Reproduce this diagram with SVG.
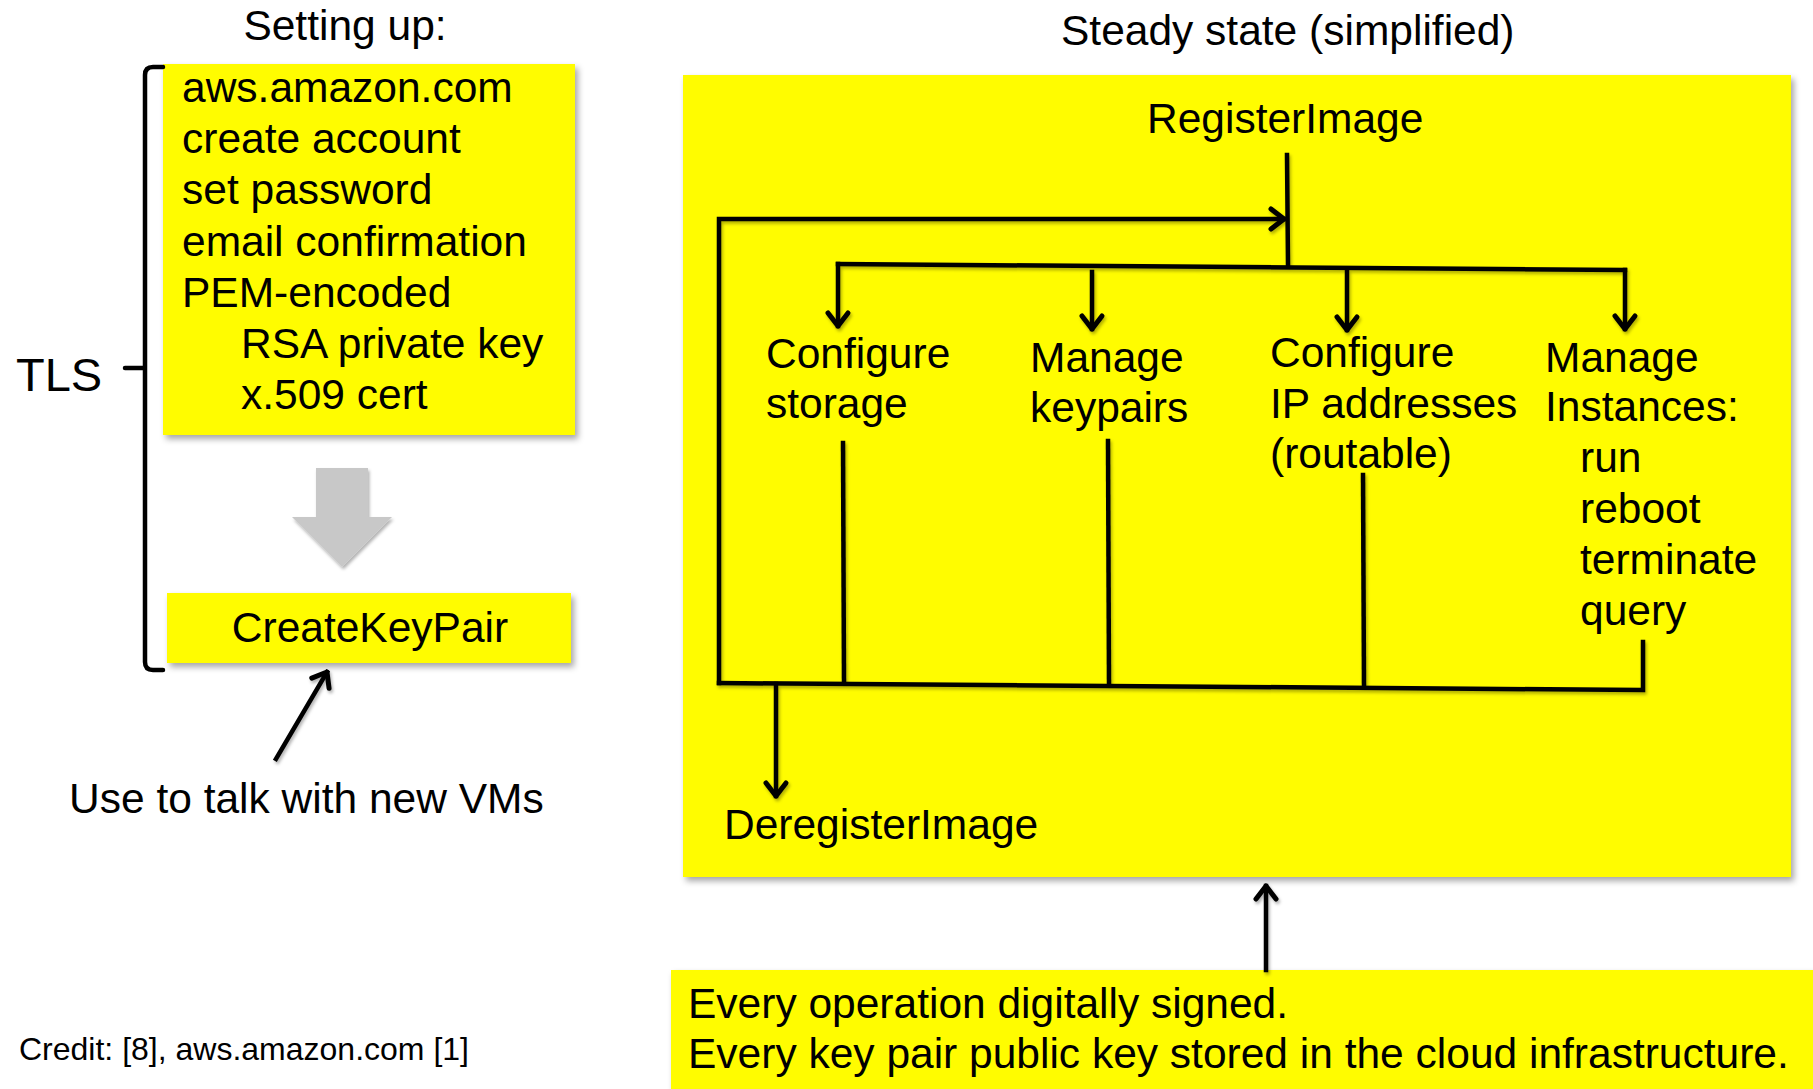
<svg xmlns="http://www.w3.org/2000/svg" width="1813" height="1089" viewBox="0 0 1813 1089">
  <defs>
    <filter id="shadow" x="-5%" y="-5%" width="115%" height="120%">
      <feDropShadow dx="3" dy="4" stdDeviation="3" flood-color="#000" flood-opacity="0.35"/>
    </filter>
    <filter id="lineShadow" x="-5%" y="-5%" width="115%" height="120%">
      <feDropShadow dx="1.5" dy="2.5" stdDeviation="1.5" flood-color="#000" flood-opacity="0.3"/>
    </filter>
    <marker id="arrow" markerUnits="userSpaceOnUse" markerWidth="30" markerHeight="30" viewBox="-20 -15 30 30" refX="0" refY="0" orient="auto" overflow="visible">
      <path d="M -13 -10 L 0 0 L -13 10" fill="none" stroke="#000" stroke-width="5" stroke-linecap="round" stroke-linejoin="round"/>
    </marker>
  </defs>
  <style>
    text { font-family: "Liberation Sans", Arial, sans-serif; font-size: 42.5px; fill: #000; }
    .small { font-size: 32px; }
    .big { font-size: 47px; }
    .box { fill: #FFFC00; filter: url(#shadow); }
    .wire { fill: none; stroke: #000; stroke-width: 4.5; stroke-linecap: square; stroke-linejoin: miter; }
    .arr { marker-end: url(#arrow); }
  </style>

  <rect width="1813" height="1089" fill="#fff"/>

  <!-- section titles -->
  <text x="345" y="40" text-anchor="middle">Setting up:</text>
  <text x="1061" y="45">Steady state (simplified)</text>

  <!-- set-up steps -->
  <g id="setup-steps">
    <rect class="box" x="163" y="64" width="412" height="371"/>
    <text x="182" y="102">aws.amazon.com</text>
    <text x="182" y="153">create account</text>
    <text x="182" y="204">set password</text>
    <text x="182" y="256">email confirmation</text>
    <text x="182" y="307">PEM-encoded</text>
    <text x="241" y="358">RSA private key</text>
    <text x="241" y="409">x.509 cert</text>
  </g>

  <!-- TLS brace -->
  <g id="tls-brace">
    <path d="M 163 67 L 153 67 Q 145 67 145 75 L 145 662 Q 145 670 153 670 L 163 670 M 145 368 L 125 368" fill="none" stroke="#000" stroke-width="4.5" stroke-linecap="round" stroke-linejoin="round"/>
    <text class="big" x="16" y="391">TLS</text>
  </g>

  <!-- block arrow between set-up and key pair -->
  <g id="setup-flow">
    <polygon points="316,468 368,468 368,517 392,517 342,567 292,517 316,517" fill="#c8c8c8" filter="url(#lineShadow)"/>
  </g>

  <g id="create-key-pair">
    <rect class="box" x="167" y="593" width="404" height="70"/>
    <text x="370" y="642" text-anchor="middle">CreateKeyPair</text>
  </g>

  <g id="vm-note">
    <text x="69" y="813">Use to talk with new VMs</text>
  </g>

  <text class="small" x="19" y="1060">Credit: [8], aws.amazon.com [1]</text>

  <!-- steady state panel -->
  <g id="steady-state">
    <rect class="box" x="683" y="75" width="1108" height="802"/>
  </g>

  <g id="register-image">
    <text x="1147" y="133">RegisterImage</text>
  </g>
  <g id="configure-storage">
    <text x="766" y="368">Configure</text>
    <text x="766" y="418">storage</text>
  </g>
  <g id="manage-keypairs">
    <text x="1030" y="372">Manage</text>
    <text x="1030" y="422">keypairs</text>
  </g>
  <g id="configure-ip">
    <text x="1270" y="367">Configure</text>
    <text x="1270" y="418">IP addresses</text>
    <text x="1270" y="468">(routable)</text>
  </g>
  <g id="manage-instances">
    <text x="1545" y="372">Manage</text>
    <text x="1545" y="421">Instances:</text>
    <text x="1580" y="472">run</text>
    <text x="1580" y="523">reboot</text>
    <text x="1580" y="574">terminate</text>
    <text x="1580" y="625">query</text>
  </g>
  <g id="deregister-image">
    <text x="724" y="839">DeregisterImage</text>
  </g>

  <g id="signing-note">
    <rect class="box" x="671" y="970" width="1150" height="130"/>
    <text x="688" y="1018">Every operation digitally signed.</text>
    <text x="688" y="1068">Every key pair public key stored in the cloud infrastructure.</text>
  </g>

  <!-- connectors -->
  <g id="connectors" filter="url(#lineShadow)">
    <!-- loop back to RegisterImage -->
    <path class="wire arr" d="M 719 683 L 719 219 L 1284 219"/>
    <!-- RegisterImage stem -->
    <path class="wire" d="M 1287 155 L 1288 264"/>
    <!-- fan-out to the operations -->
    <path class="wire" d="M 838 264 L 1625 270"/>
    <path class="wire arr" d="M 838 264 L 838 326"/>
    <path class="wire arr" d="M 1092 272 L 1092 329"/>
    <path class="wire arr" d="M 1347 272 L 1347 330"/>
    <path class="wire arr" d="M 1625 270 L 1625 329"/>
    <!-- fan-in from the operations -->
    <path class="wire" d="M 843 443 L 844 683"/>
    <path class="wire" d="M 1108 441 L 1109 685"/>
    <path class="wire" d="M 1363 475 L 1364 687"/>
    <path class="wire" d="M 1643 642 L 1643 690 L 719 683"/>
    <!-- to DeregisterImage -->
    <path class="wire arr" d="M 776 684 L 776 796"/>
    <!-- signing note to panel -->
    <path class="wire arr" d="M 1266 970 L 1266 886"/>
    <!-- note to CreateKeyPair -->
    <path class="wire arr" d="M 276 759 L 327 672"/>
  </g>
</svg>
